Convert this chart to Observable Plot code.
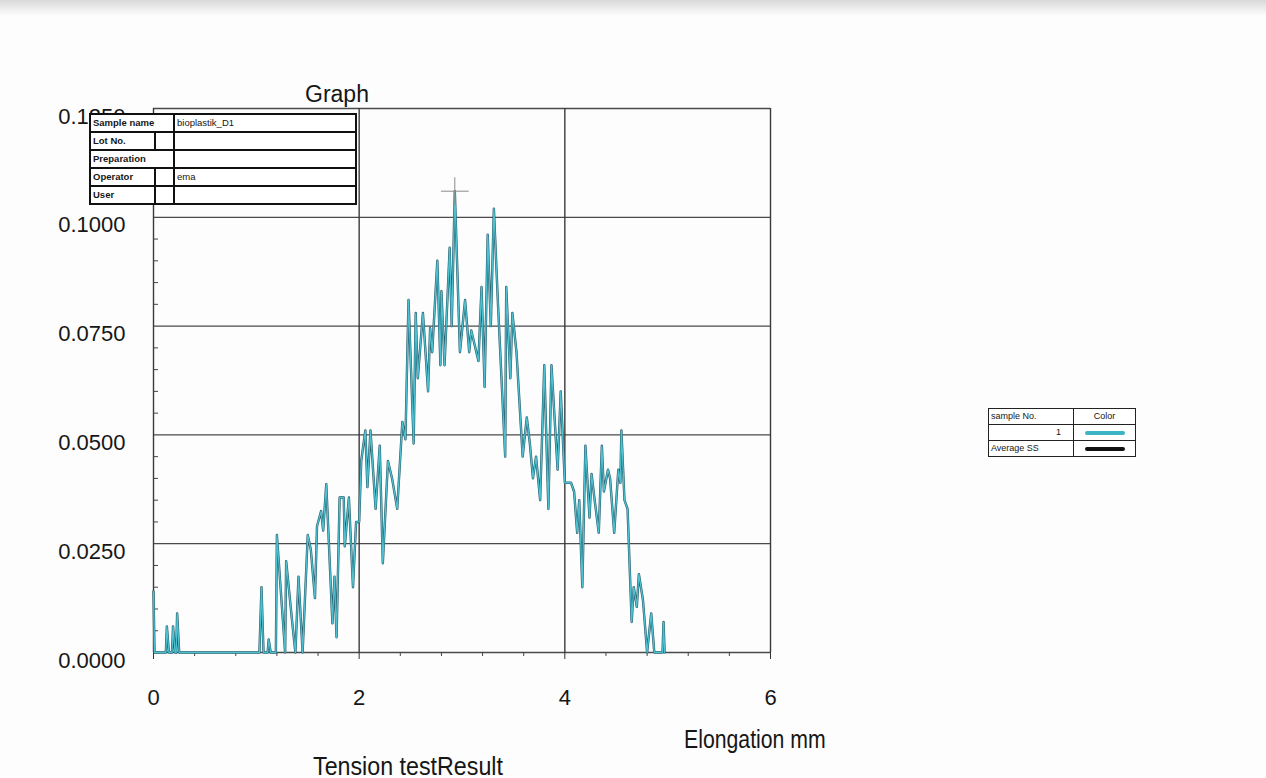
<!DOCTYPE html>
<html>
<head>
<meta charset="utf-8">
<script src="https://cdn.jsdelivr.net/npm/d3@7"></script>
<script src="https://cdn.jsdelivr.net/npm/@observablehq/plot@0.6"></script>
<style>
  html, body { margin: 0; padding: 0; background: #fdfdfd; }
  body { width: 1266px; height: 778px; position: relative; overflow: hidden;
         font-family: "Liberation Sans", Arial, sans-serif; color: #161616; }
  #chart { position: absolute; left: 0; top: 0; }
  .lbl { position: absolute; white-space: nowrap; line-height: 1; transform-origin: left center; }
  table.info, table.leg { position: absolute; border-collapse: collapse; background: #fff;
         font-family: "Liberation Sans", Arial, sans-serif; }
  table.info td { border: 2px solid #111; height: 16px; padding: 0 2px; font-size: 9.5px; font-weight: bold; line-height: 1; }
  table.leg td { border: 1.5px solid #222; height: 15px; padding: 0 2px; font-size: 9px; line-height: 1; }
  .sw { display: block; margin: 0 auto; width: 40px; height: 4px; border-radius: 2px; }
  .topband { position: absolute; left: 0; top: 0; width: 1266px; height: 16px;
             background: linear-gradient(#d9d9d9, #fdfdfd); }
</style>
</head>
<body>
<div class="topband"></div>
<div id="chart"></div>
<script>
// ---- data (elongation in mm, force) ----
const elongation = [
  0.00, 0.01, 0.12, 0.13, 0.15, 0.18, 0.19, 0.21, 0.22, 0.23, 0.25,
  1.03, 1.05, 1.07, 1.11, 1.12, 1.14, 1.19, 1.20, 1.28, 1.29, 1.35, 1.38, 1.41, 1.45,
  1.50, 1.53, 1.57, 1.59, 1.63, 1.65, 1.68, 1.74, 1.76, 1.78, 1.81, 1.85, 1.86, 1.90,
  1.94, 1.97, 2.00, 2.02, 2.06, 2.08, 2.11, 2.16, 2.20, 2.23, 2.28, 2.32, 2.37, 2.42,
  2.45, 2.48, 2.53, 2.55, 2.57, 2.62, 2.67, 2.69, 2.71, 2.76, 2.79, 2.80, 2.83, 2.88,
  2.90, 2.93, 2.98, 3.03, 3.07, 3.09, 3.16, 3.19, 3.22, 3.25, 3.28, 3.31, 3.35, 3.42,
  3.43, 3.47, 3.49, 3.53, 3.56, 3.59, 3.63, 3.66, 3.69, 3.72, 3.76, 3.80, 3.84, 3.87,
  3.93, 3.96, 4.00, 4.06, 4.09, 4.12, 4.14, 4.17, 4.20, 4.24, 4.26, 4.29, 4.33, 4.36,
  4.38, 4.42, 4.44, 4.48, 4.52, 4.54, 4.55, 4.58, 4.61, 4.65, 4.67, 4.70, 4.72, 4.76,
  4.80, 4.84, 4.87, 4.95, 4.96, 4.97
];
const force = [
  0.014, 0, 0, 0.006, 0, 0, 0.006, 0, 0, 0.009, 0,
  0, 0.015, 0, 0, 0.003, 0, 0, 0.027, 0, 0.021, 0.0067, 0, 0.0174, 0,
  0.027, 0.0236, 0.0125, 0.029, 0.0325, 0.028, 0.0387, 0.0067, 0.0174, 0.0035, 0.0356, 0.0356, 0.0244, 0.0356,
  0.015, 0.030, 0.030, 0.044, 0.051, 0.038, 0.051, 0.033, 0.0475, 0.0205, 0.044, 0.040, 0.033, 0.053,
  0.049, 0.081, 0.048, 0.078, 0.063, 0.078, 0.060, 0.0745, 0.069, 0.090, 0.066, 0.083, 0.066, 0.093,
  0.075, 0.106, 0.069, 0.081, 0.069, 0.074, 0.067, 0.084, 0.061, 0.096, 0.075, 0.102, 0.080, 0.045,
  0.084, 0.063, 0.078, 0.069, 0.057, 0.045, 0.054, 0.048, 0.040, 0.045, 0.035, 0.066, 0.033, 0.066,
  0.042, 0.060, 0.039, 0.039, 0.037, 0.0275, 0.035, 0.015, 0.0475, 0.031, 0.041, 0.035, 0.0275, 0.0475,
  0.037, 0.042, 0.040, 0.0275, 0.042, 0.039, 0.051, 0.035, 0.033, 0.007, 0.015, 0.0105, 0.018, 0.012,
  0, 0.009, 0, 0, 0.007, 0
];
const yTicks = [0, 0.025, 0.05, 0.075, 0.1, 0.125];
const yTickLabels = ["0.0000", "0.0250", "0.0500", "0.0750", "0.1000", "0.1250"];
const xTicks = [0, 2, 4, 6];
const xMinor = [0.4, 0.8, 1.2, 1.6, 2.4, 2.8, 3.2, 3.6, 4.4, 4.8, 5.2, 5.6];
const yMinor = d3.range(1, 25).map(i => i * 0.005).filter(v => Math.abs(v / 0.025 - Math.round(v / 0.025)) > 1e-6);

const pts = elongation.map((x, i) => ({x, y: force[i]}));
const maxPt = pts.reduce((a, b) => (b.y > a.y ? b : a));

const plot = Plot.plot({
  width: 1266,
  height: 778,
  marginLeft: 153,
  marginRight: 496,
  marginTop: 108,
  marginBottom: 126,
  x: {domain: [0, 6]},
  y: {domain: [0, 0.125]},
  style: {background: "transparent", fontFamily: "'Liberation Sans', Arial, sans-serif", fontSize: "22px", color: "#161616"},
  marks: [
    Plot.ruleY(yTicks, {stroke: "#4a4a4a", strokeWidth: 1.3}),
    Plot.ruleX(xTicks, {stroke: "#3a3a3a", strokeWidth: 1.4}),
    Plot.axisY(yMinor, {tickSize: -5, tickFormat: () => "", label: null, stroke: "#444"}),
    Plot.axisY(yTicks, {tickSize: 0, tickPadding: 28, dy: 8, tickFormat: d => yTickLabels[yTicks.indexOf(d)], label: null}),
    Plot.axisX(xMinor, {tickSize: 4, tickFormat: () => "", label: null, stroke: "#444"}),
    Plot.axisX(xTicks, {tickSize: 7, tickPadding: 30, tickFormat: d => String(d), label: null, stroke: "#333"}),
    Plot.line(pts, {x: "x", y: "y", stroke: "#245c6b", strokeWidth: 2.4, curve: "linear"}),
    Plot.line(pts, {x: "x", y: "y", stroke: "#4fc0cf", strokeWidth: 1.3, curve: "linear"}),
    Plot.dot([maxPt], {x: "x", y: "y", symbol: "plus", r: 9, stroke: "#8a8a8a", strokeWidth: 1})
  ]
});
document.getElementById("chart").appendChild(plot);
</script>

<div class="lbl" style="left:305px; top:83px; font-size:23px;">Graph</div>
<div class="lbl" style="left:684px; top:727px; font-size:25px; transform: scaleX(0.85);">Elongation mm</div>
<div class="lbl" style="left:313px; top:754px; font-size:25px; transform: scaleX(0.93);">Tension testResult</div>

<table class="info" style="left:89px; top:113px; width:268px;">
  <tr><td colspan="2" style="width:76px;">Sample name</td><td style="font-weight:normal;">bioplastik_D1</td></tr>
  <tr><td style="width:59px;">Lot No.</td><td style="width:13px;"></td><td></td></tr>
  <tr><td colspan="2">Preparation</td><td></td></tr>
  <tr><td>Operator</td><td></td><td style="font-weight:normal;">ema</td></tr>
  <tr><td>User</td><td></td><td></td></tr>
</table>

<table class="leg" style="left:988px; top:408px; width:148px;">
  <tr><td style="width:80px;">sample No.</td><td style="text-align:center;">Color</td></tr>
  <tr><td style="text-align:right; padding-right:12px;">1</td><td><span class="sw" style="background:#3cb4c4;"></span></td></tr>
  <tr><td>Average SS</td><td><span class="sw" style="background:#111;"></span></td></tr>
</table>
</body>
</html>
